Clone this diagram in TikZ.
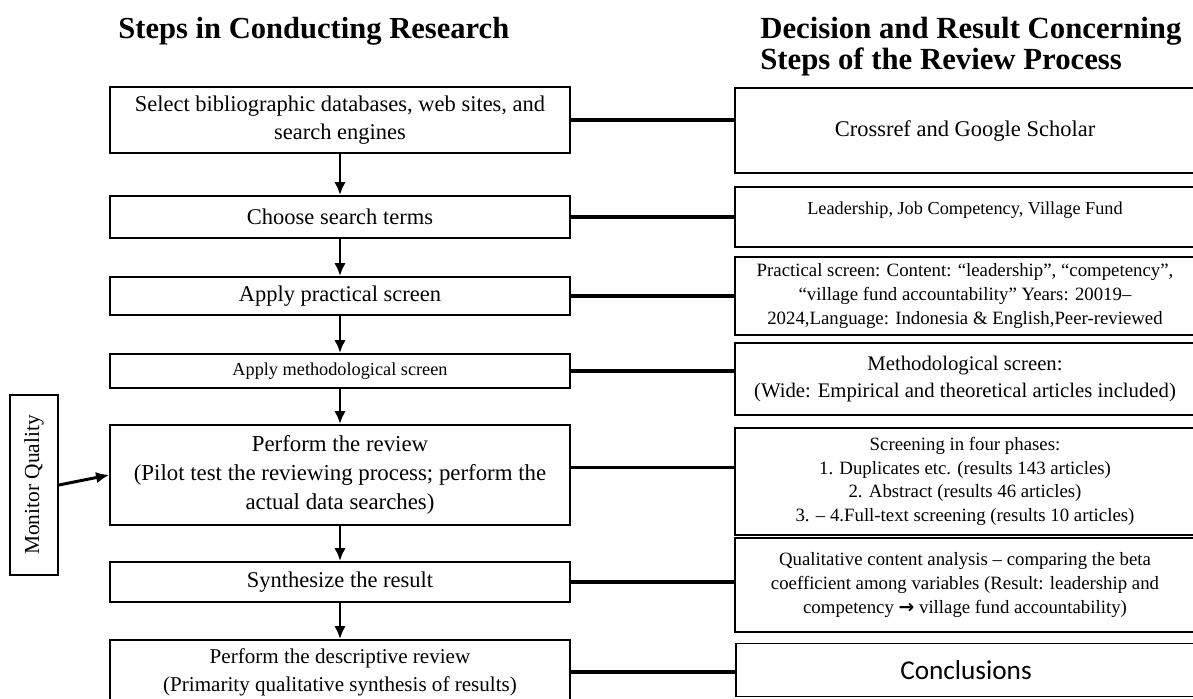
\documentclass[tikz,border=0pt]{standalone}
\usepackage{fontspec}
\setmainfont{Liberation Serif}
\newfontfamily\conclfont{Carlito}
\newfontfamily\arrowfont{DejaVu Sans}
\usepackage{tikz}
\usetikzlibrary{arrows.meta,positioning}

\begin{document}
\begin{tikzpicture}[x=0.02cm, y=-0.02cm,
    stepbox/.style={draw, line width=1.1pt, rectangle, minimum width=9.2cm, align=center, inner sep=1pt},
    resbox/.style={draw, line width=1.1pt, rectangle, minimum width=9.2cm, align=center, inner sep=1pt},
    flow/.style={-{Latex[length=2.6mm,width=2.3mm]}, line width=1.7pt},
    link/.style={line width=1.9pt},
    bigtxt/.style={font=\fontsize{12.8}{16}\selectfont},
    midtxt/.style={font=\fontsize{10.7}{13.5}\selectfont},
    smalltxt/.style={font=\fontsize{10.4}{13.3}\selectfont}]
    \useasboundingbox (0,0) rectangle (1193,698);
    \clip (0,0) rectangle (1193,698);

    % Column titles
    \node[anchor=north west, inner sep=0pt, font=\bfseries\fontsize{17.4}{17.8}\selectfont] (lefttitle) at (118,17) {Steps in Conducting Research};
    \node[anchor=north west, inner sep=0pt, align=left, font=\bfseries\fontsize{17.5}{17.8}\selectfont] (righttitle) at (760,17) {Decision and Result Concerning\\Steps of the Review Process};

    % Steps of the research (left column)
    \node[stepbox, bigtxt, minimum height=1.32cm] (select) at (340,120) {Select bibliographic databases, web sites, and\\search engines};
    \node[stepbox, bigtxt, minimum height=0.84cm] (terms) at (340,217) {Choose search terms};
    \node[stepbox, bigtxt, minimum height=0.76cm] (practical) at (340,296) {Apply practical screen};
    \node[stepbox, smalltxt, minimum height=0.68cm] (method) at (340,371) {Apply methodological screen};
    \node[stepbox, font=\fontsize{13}{16.6}\selectfont, minimum height=2cm] (review) at (340,475) {Perform the review\\(Pilot test the reviewing process; perform the\\actual data searches)};
    \node[stepbox, bigtxt, minimum height=0.8cm] (synth) at (340,582) {Synthesize the result};
    \node[stepbox, font=\fontsize{12}{15.9}\selectfont, minimum height=1.28cm] (descr) at (340,672) {Perform the descriptive review\\(Primarity qualitative synthesis of results)};

    % Monitoring box
    \node[draw, line width=1.1pt, rotate=90, minimum width=3.6cm, minimum height=0.96cm, font=\fontsize{12.2}{15}\selectfont] (monitor) at (34,485) {Monitor Quality};

    % Decisions and results (right column)
    \node[resbox, bigtxt, minimum height=1.7cm] (sources) at (965,130.5) {Crossref and Google Scholar};
    \node[resbox, smalltxt, minimum height=1.2cm] (keywords) at (965,217) {Leadership, Job Competency, Village Fund\\[-3pt]\mbox{}};
    \node[resbox, midtxt, minimum height=1.56cm] (criteria) at (965,296) {Practical screen: Content: “leadership”, “competency”,\\“village fund accountability” Years: 20019–\\2024,Language: Indonesia \& English,Peer-reviewed};
    \node[resbox, font=\fontsize{11.8}{14.8}\selectfont, minimum height=1.44cm] (wide) at (965,379) {Methodological screen:\\(Wide: Empirical and theoretical articles included)};
    \node[resbox, midtxt, minimum height=2.14cm] (phases) at (965,481.5) {Screening in four phases:\\1. Duplicates etc. (results 143 articles)\\2. Abstract (results 46 articles)\\3. – 4.Full-text screening (results 10 articles)};
    \node[resbox, midtxt, minimum height=1.88cm] (analysis) at (965,585) {Qualitative content analysis – comparing the beta\\coefficient among variables (Result: leadership and\\competency {\arrowfont\bfseries →} village fund accountability)};
    \node[resbox, font=\conclfont\fontsize{15.5}{18}\selectfont, minimum height=1.06cm] (concl) at (966,670) {Conclusions};

    % Flow between the steps
    \draw[flow] (select) -- (terms);
    \draw[flow] (terms) -- (practical);
    \draw[flow] (practical) -- (method);
    \draw[flow] (method) -- (review);
    \draw[flow] (review) -- (synth);
    \draw[flow] (synth) -- (descr);
    \draw[flow] (monitor.south) -- (review.west);

    % Links to the decisions
    \draw[link] (select.east) -- (select.east -| sources.west);
    \draw[link] (terms.east) -- (terms.east -| keywords.west);
    \draw[link] (practical.east) -- (practical.east -| criteria.west);
    \draw[link] (method.east) -- (method.east -| wide.west);
    \draw[link] ([yshift=0.15cm]review.east) -- ([yshift=0.15cm]review.east -| phases.west);
    \draw[link] (synth.east) -- (synth.east -| analysis.west);
    \draw[link] (descr.east) -- (descr.east -| concl.west);
\end{tikzpicture}
\end{document}
